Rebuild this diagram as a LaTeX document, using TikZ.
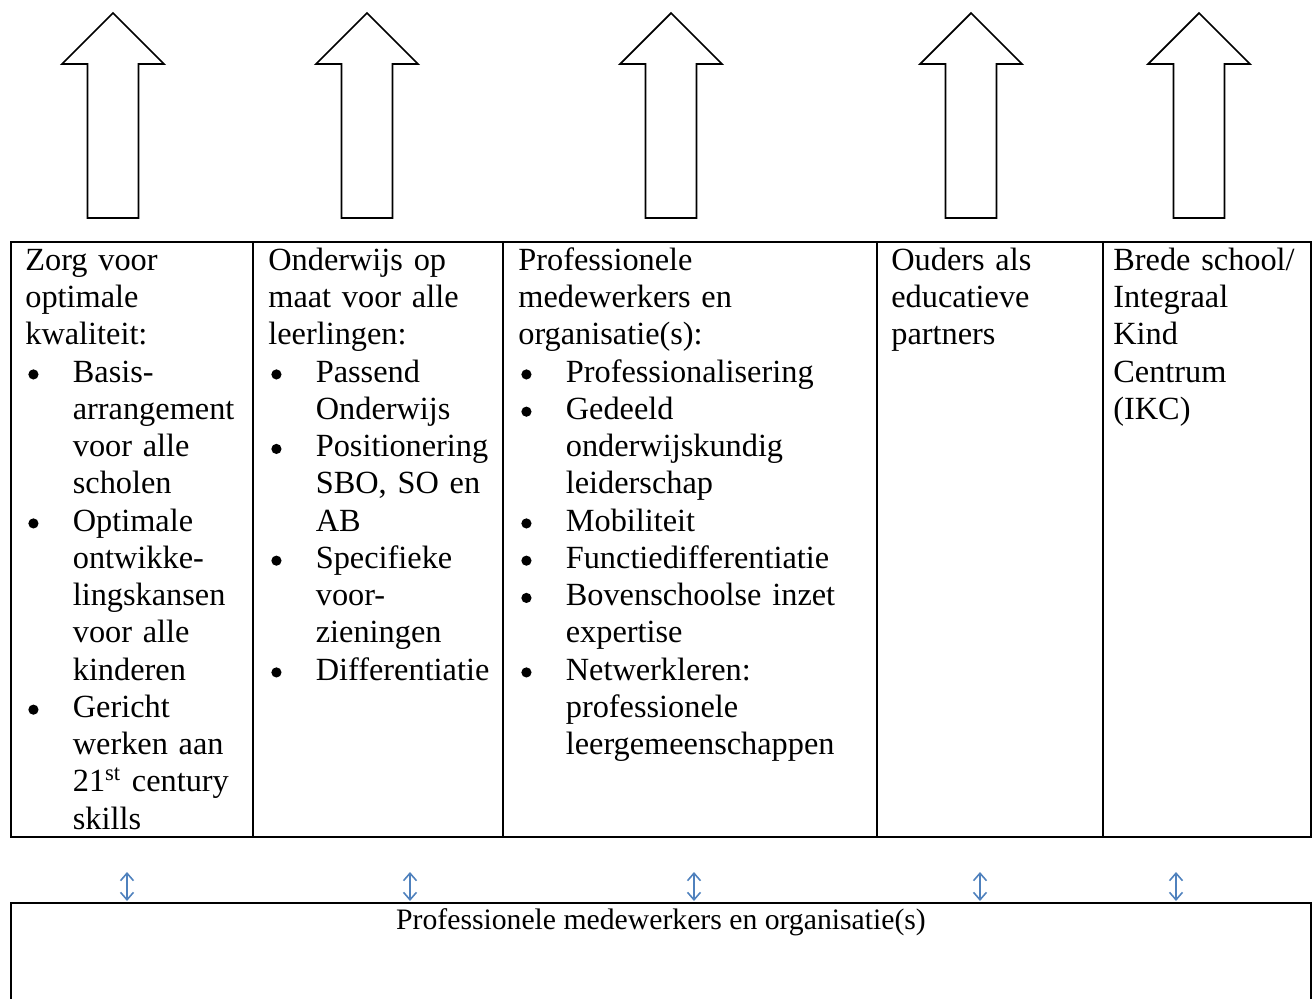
\documentclass[tikz,border=0pt]{standalone}
\usepackage{fontspec}
\setmainfont{Liberation Serif}
\usepackage{xcolor}
\usepackage{tikz}
\usetikzlibrary{arrows.meta}

\definecolor{wordblue}{RGB}{79,129,189}
\setlength{\parindent}{0pt}
\newcommand{\cellfont}{\fontsize{18.4}{21.2}\selectfont}
\newcommand{\boxfont}{\fontsize{16.9}{19.4}\selectfont}
\newcommand{\nl}{\newline}
\newlength{\bulind}
\setlength{\bulind}{0.95cm}
% round dot, as Word sets it
\newcommand{\dotmark}{\tikz[baseline=0pt, x=1pt, y=1pt]\fill (0pt,4.4pt) circle (2.9pt);}
% bullet point with hanging lines
\newcommand{\bpt}[1]{\par\hangindent=\bulind\hangafter=1\makebox[\bulind][l]{\hspace{1.7pt}\dotmark}#1\par}

\begin{document}
\begin{tikzpicture}[x=0.02cm, y=-0.02cm,
        frame/.style={line width=1pt, line join=miter},
        cell/.style={anchor=north west, inner sep=0pt, font=\cellfont, execute at begin node=\raggedright},
        twoway/.style={wordblue, line width=0.9pt, {Straight Barb[length=0.15cm,width=0.26cm]}-{Straight Barb[length=0.15cm,width=0.26cm]}}]

        % Page
        \useasboundingbox (0,0) rectangle (1316,998);

        % Block arrows
        \foreach \x in {113,367,671,971,1199} {
            \draw[frame] (\x,13) -- (\x+51,64) -- (\x+25.5,64) -- (\x+25.5,218)
                -- (\x-25.5,218) -- (\x-25.5,64) -- (\x-51,64) -- cycle;
        }

        % Table
        \draw[frame] (11,242) rectangle (1311,837);
        \foreach \x in {253,503,877,1103} {
            \draw[frame] (\x,242) -- (\x,837);
        }

        \node[cell, text width=4.46cm] (quality) at (25,244) {\strut Zorg voor\nl optimale\nl kwaliteit:
            \bpt{Basis-\nl arrangement\nl voor alle\nl scholen}
            \bpt{Optimale\nl ontwikke-\nl lingskansen\nl voor alle\nl kinderen}
            \bpt{Gericht\nl werken aan\nl 21\textsuperscript{st} century\nl skills}};
        \node[cell, text width=4.6cm] (teaching) at (268,244) {\strut Onderwijs op\nl maat voor alle\nl leerlingen:
            \bpt{Passend\nl Onderwijs}
            \bpt{Positionering\nl SBO, SO en\nl AB}
            \bpt{Specifieke\nl voor-\nl zieningen}
            \bpt{Differentiatie}};
        \node[cell, text width=7.08cm] (staffcell) at (518,244) {\strut Professionele\nl medewerkers en\nl organisatie(s):
            \bpt{Professionalisering}
            \bpt{Gedeeld\nl onderwijskundig\nl leiderschap}
            \bpt{Mobiliteit}
            \bpt{Functiedifferentiatie}
            \bpt{Bovenschoolse inzet\nl expertise}
            \bpt{Netwerkleren:\nl professionele\nl leergemeenschappen}};
        \node[cell, text width=4.14cm] (parents) at (891,244) {\strut Ouders als\nl educatieve\nl partners};
        \node[cell, text width=3.86cm] (ikc) at (1113,244) {\strut Brede school/\nl Integraal\nl Kind\nl Centrum\nl (IKC)};

        % Two-way links
        \foreach \x [count=\i] in {127,410,694,980,1176} {
            \coordinate (up\i) at (\x,872);
            \coordinate (dn\i) at (\x,901);
            \draw[twoway] (up\i) -- (dn\i);
        }

        % Bottom box
        \draw[frame] (11,1000) -- (11,903) -- (1311,903) -- (1311,1000);
        \node[font=\boxfont, anchor=base] (staff) at (661,929) {Professionele medewerkers en organisatie(s)};

    \end{tikzpicture}
\end{document}
